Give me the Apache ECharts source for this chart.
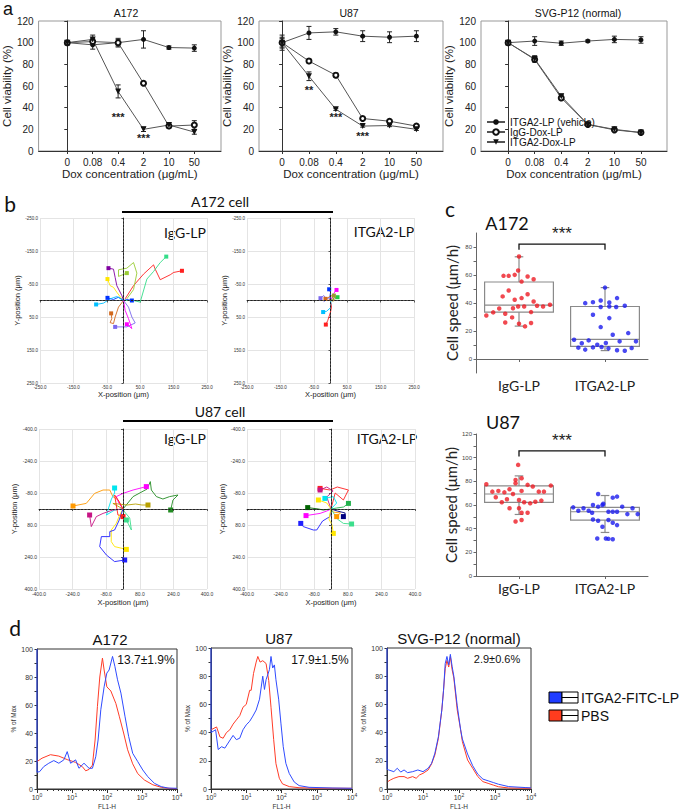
<!DOCTYPE html>
<html><head><meta charset="utf-8">
<script src="https://cdn.jsdelivr.net/npm/echarts@6/dist/echarts.min.js"></script>
<style>html,body{margin:0;padding:0;background:#fff}#c{width:685px;height:812px}</style>
</head><body><div id="c"></div>
<script>
// ================= DATA =================
// Panel a: cell viability (%)
const doseLabels = ['0','0.08','0.4','2','10','50'];
const a172Vehicle = [100,98,100,103,95.5,95];
const a172VehicleErr = [2,4,3,8,1.5,3];
const a172IgGDox = [100,101,100,62.5,23,24];
const a172IgGDoxErr = [2,3,4,1,2,4];
const a172ITGA2Dox = [100,103,55,20,24,17.5];
const a172ITGA2DoxErr = [2,4,6,2,2,2];
const u87Vehicle = [100,109,110,106,105,106];
const u87VehicleErr = [7,6,3,5,5,5];
const u87IgGDox = [100,83,70,30,27.5,23];
const u87IgGDoxErr = [5,2,2,1,1,1];
const u87ITGA2Dox = [100,69,38.5,23,23.5,20];
const u87ITGA2DoxErr = [4,4,1,1,1,1];
const svgVehicle = [100,101.5,99.5,101.5,103,102.5];
const svgVehicleErr = [2,4,2,1,3,3];
const svgIgGDox = [100,84.5,49,24.5,19.5,17];
const svgIgGDoxErr = [2,2,2,1,1,1];
const svgITGA2Dox = [100,85,50.5,24.5,20,17];
const svgITGA2DoxErr = [2,3,2,1,1,1];
const a172Stars = [[2,31,'***'],[3,12,'***']];
const u87Stars = [[1,56,'**'],[2,31,'***'],[3,14,'***']];

// Panel b: cell tracks (x, y in µm), first point = track end
const a172IgGTracks = [
  [[175,-90],[150,-85],[140,-78],[110,-63],[95,-95],[90,-108],[60,-80],[30,-45],[5,-5]],
  [[128,-133],[110,-115],[90,-88],[70,-65],[50,5],[30,0],[5,0]],
  [[10,-83],[-15,-73],[-15,-93],[10,-98],[30,-115],[40,-83],[30,-33],[10,-5]],
  [[-45,-98],[-30,-95],[-25,-70],[-20,-45],[-5,-15],[0,0]],
  [[-48,-65],[-40,-45],[-30,-40],[-20,-25],[-5,-5]],
  [[-48,-8],[-30,-3],[-15,-10],[0,0]],
  [[25,0],[10,-3],[0,0]],
  [[-82,12],[-60,8],[-40,-5],[-20,-12],[0,0]],
  [[-37,39],[-35,55],[-40,67],[-30,70],[-25,50],[-15,20],[0,0]],
  [[-25,80],[10,80],[35,68],[25,50],[15,20],[0,0]],
  [[10,72],[25,85],[15,55],[5,30],[0,0]]
];
const a172IgGColors = ['#ff2020','#33dd88','#99cc33','#8000a0','#ffe600','#0033ff','#0033ff','#00bfff','#d2691e','#7b68ee','#ff00ff'];
const a172ITGA2Tracks = [
  [[-4,-34],[0,-25],[-2,-10],[0,0]],
  [[18,-32],[10,-22],[5,-10],[0,0]],
  [[21,-10],[12,-8],[5,-3],[0,0]],
  [[-30,-7],[-20,-15],[-12,-5],[-20,3],[-5,-8],[0,0]],
  [[-22,35],[-12,33],[0,22],[2,10],[0,0]],
  [[-14,73],[-8,60],[0,35],[3,20],[0,5]],
  [[-15,-5],[5,-15],[10,0],[-5,-2],[0,0]],
  [[10,-15],[15,-5],[8,2],[0,0]]
];
const a172ITGA2Colors = ['#0033ff','#ff00ff','#22cc44','#7b68ee','#00bfff','#ff2020','#d2691e','#999933'];
const u87IgGTracks = [
  [[-238,-15],[-175,-28],[-135,-78],[-95,-95],[-63,-95],[-48,-62],[-24,-45],[0,0]],
  [[227,5],[238,-45],[262,-70],[222,-62],[190,-50],[159,-62],[135,-95],[130,-137],[115,-100],[48,-62],[0,0]],
  [[111,-112],[48,-95],[0,-78],[-32,-62],[-20,-30],[0,0]],
  [[-40,-105],[-40,-80],[-55,-50],[-79,30],[-40,5],[0,0]],
  [[119,-20],[90,-20],[60,-25],[20,-20],[-48,-28],[0,0]],
  [[-159,30],[-151,88],[-127,38],[-95,22],[-48,5],[0,0]],
  [[0,38],[-24,30],[-40,-70],[-20,-40],[0,0]],
  [[16,55],[40,105],[32,45],[8,15],[0,0]],
  [[16,202],[-40,188],[-56,163],[-56,105],[-32,72],[-16,30],[0,0]],
  [[8,255],[-40,263],[-79,230],[-111,188],[-103,138],[-63,138],[-63,113],[-40,105],[-20,60],[0,0]]
];
const u87IgGColors = ['#ff9900','#228b22','#ff00ff','#00e5ee','#b8a000','#c71585','#ff2020','#3cde8c','#ffe600','#1f1fff'];
const u87ITGA2Tracks = [
  [[-52,-103],[-5,-95],[30,-110],[83,-95],[59,-45],[20,-80],[0,0]],
  [[-52,-95],[-20,-110],[10,-90],[-20,-60],[0,0]],
  [[-60,-45],[-20,-30],[0,0]],
  [[-29,-53],[11,-62],[27,-30],[0,0]],
  [[83,-28],[60,-10],[27,-5],[0,0]],
  [[-111,-7],[-60,0],[-37,5],[0,0]],
  [[-119,33],[-52,22],[-20,10],[0,0]],
  [[-144,72],[-132,88],[-84,105],[-68,105],[-40,60],[-5,38],[0,0]],
  [[27,38],[45,20],[10,15],[0,0]],
  [[59,38],[68,20],[30,10],[0,0]],
  [[98,75],[59,72],[30,50],[0,0]],
  [[11,122],[5,80],[-10,50],[0,0]]
];
const u87ITGA2Colors = ['#ff2020','#c71585','#ffe600','#00e5ee','#22b14c','#006400','#ff00ff','#1f1fff','#ff9900','#000080','#3cde8c','#ffe600'];

// Panel c: cell speed (µm/h)
const speedCats = ['IgG-LP','ITGA2-LP'];
const a172IgGSpeed = [31.1,33.3,36.1,44.7,32.3,26.1,48.9,59.4,59.4,36.3,29.7,60.1,42.3,63.2,73.2,37.5,25.2,55.3,43.5,37.5,23.3,46.3,58.9,33.5,25.7,57,41.1,38,37.5,38.7];
const a172IgGJitter = [-0.38,-0.3,-0.23,-0.19,-0.16,-0.16,-0.12,-0.18,-0.12,-0.07,-0.08,-0.05,-0.05,-0.01,0,-0.01,0,0.03,0.03,0.06,0.07,0.1,0.1,0.14,0.14,0.17,0.17,0.21,0.28,0.36];
const a172ITGA2Speed = [13.8,8.1,11.2,6.7,13.3,39.9,40.6,31.6,8.3,10.2,41.8,37.1,22.8,8.6,11.4,7.6,37.5,29.2,40.4,17.3,37.1,43.5,6.2,12.6,38,5.9,18.5,7.8,12.6,51];
const a172ITGA2Jitter = [-0.36,-0.31,-0.27,-0.23,-0.19,-0.23,-0.14,-0.14,-0.14,-0.09,-0.05,-0.05,-0.05,-0.04,0.01,0.04,0.05,0.05,0.05,0.09,0.13,0.14,0.14,0.17,0.23,0.23,0.27,0.31,0.36,0];
const u87IgGSpeed = [77.5,71.3,66.5,71.9,62.3,70.7,64.8,57.2,73.3,69.3,78.4,81.2,46.1,93.9,64.2,57.2,82.6,71.9,53.5,47.3,62.3,77,53.5,61.4,75.6,62.8,71.3,63.7,71.3,76.4];
const u87IgGJitter = [-0.38,-0.31,-0.27,-0.24,-0.2,-0.17,-0.14,-0.11,-0.11,-0.07,-0.04,-0.04,-0.04,-0.01,0,0,0.03,0.03,0.03,0.03,0.06,0.1,0.1,0.13,0.16,0.19,0.23,0.26,0.29,0.37];
const u87ITGA2Speed = [58,55.2,57.2,55.2,53.5,60,47.8,46.7,69.3,58.6,60,41.6,61,31.7,54.3,47.3,31.4,45,54.3,31.1,66.2,54.3,43,67.1,58.6,52.3,57.2,52.3,31.7];
const u87ITGA2Jitter = [-0.37,-0.31,-0.25,-0.19,-0.15,-0.14,-0.14,-0.08,-0.08,-0.08,-0.03,-0.03,-0.02,0.01,0.04,0.04,0.04,0.09,0.09,0.09,0.09,0.14,0.14,0.14,0.2,0.26,0.32,0.38,-0.09];
// box stats: [whiskerLow, Q1, median, Q3, whiskerHigh]
const a172Boxes = [[23.5,33.5,38.5,55,73],[6,9,14,37.5,51]];
const u87Boxes = [[52,62.3,69.3,76.1,84.6],[36.8,47.3,54.3,58,68]];
const a172Bracket = [1,2,82,78]; const a172Sig = '***';
const u87Bracket = [1,2,105.8,101]; const u87Sig = '***';

// Panel d: flow cytometry histograms [FL1-H, % of Max]
const a172Blue = [[1,100],[1,12],[1.19,12.4],[1.56,16],[2.17,18.4],[3.02,20.3],[4.2,18.4],[5.85,20.8],[7.3,26.7],[9.1,18.4],[12.7,20.8],[15.8,14.8],[22,18.4],[30.7,14.8],[38.3,14.8],[47.7,23],[55.7,35],[66.5,56.6],[82.8,73],[98.9,82.8],[115,85],[144,94.7],[168,87.6],[200,78],[250,68.5],[326,52],[416,37.5],[542,25.5],[754,19.6],[1052,13.6],[1465,8.8],[2275,4],[3540,1.7],[5510,0.7],[10000,0.5]];
const a172Red = [[1,19.6],[1.39,22],[2.42,24.5],[4.2,23.5],[7.3,21],[12.7,19],[19.7,16],[24.6,13],[30.7,14],[38.3,17],[45.7,35],[53.3,59],[62.2,80],[74.1,93.5],[82.8,85],[98.9,73],[128.8,70],[179.5,61],[223.9,52],[298.5,40],[389,28],[541.6,18],[754.4,11],[1175,6.4],[2041,3],[3548,1.2],[6166,0.4],[10000,0.2]];
const u87Blue = [[1,100],[1,40],[1.35,42],[1.6,28],[1.99,30],[2.47,29],[3.06,32.6],[4.23,38],[5.24,35],[6.53,36],[8.08,42],[10,45.5],[12.5,48],[15.4,51.7],[19.1,56],[23.8,63.7],[29.4,80],[32.9,70.6],[36.5,77.5],[45.4,84.6],[50.4,94],[56.2,85.8],[62.8,88],[69.6,77.5],[83,63.7],[96.2,46.7],[112,30],[133,18.2],[166,11],[229,5],[316,2.4],[604,1.2],[2723,0.7],[10000,0.5]];
const u87Red = [[1,42],[1.44,44],[1.79,37],[2.21,36],[2.74,40],[3.42,42],[4.23,46],[5.24,49],[6.53,52],[8.08,58],[10,60],[12.5,70],[13.8,70],[16.1,82],[19.1,90],[21.3,94],[24.7,90],[29.4,91],[36.5,89],[43.4,77],[50.4,58],[60,35],[69.6,18],[86.7,7.6],[107,3.6],[166,1.7],[316,0.9],[908,0.6],[10000,0.5]];
const svgBlue = [[1,100],[1,14],[1.11,13.5],[1.55,12.3],[1.93,14.7],[2.4,12],[2.98,13.5],[3.73,11.6],[5.17,12.3],[7.2,13.5],[10,12.3],[13.9,14.7],[17.3,18.2],[21.4,25.4],[26.8,37.2],[33.3,56],[37.2,70],[41.4,89],[46.3,94],[51.8,88],[57.5,95.5],[64.4,87],[71.9,80],[89.4,59],[111,42],[124,35.5],[173,24.8],[240,16.5],[333,10.5],[463,7],[644,5.8],[894,4.6],[1242,3.4],[2400,1.7],[7200,1],[10000,0.8]];
const svgRed = [[1.05,5.2],[1.24,6.4],[1.55,7.6],[2.15,8.8],[2.98,8.8],[3.73,7.6],[5.17,8.8],[6.45,7.6],[8.03,10],[10,11.1],[13.9,13.5],[17.3,17.8],[21.4,24.2],[26.8,36],[33.3,56],[37.2,70],[41.4,85.3],[46.3,91.2],[51.8,86.5],[57.5,94],[64.4,84.6],[71.9,78.7],[89.4,56],[111,42],[124,33.6],[173,20.6],[240,14.7],[333,8.8],[463,5.2],[644,4],[894,2.8],[1242,1.6],[2400,0.7],[10000,0.5]];
const histNotes = ['13.7±1.9%','17.9±1.5%','2.9±0.6%'];
const histTitles = ['A172','U87','SVG-P12 (normal)'];
const histLegend = ['ITGA2-FITC-LP','PBS'];

// ================= CHART =================
const FA = 'Liberation Sans, Arial, sans-serif';
const FC = 'Lato, Open Sans, sans-serif';
const chart = echarts.init(document.getElementById('c'), null, {renderer:'svg'});

const grids = [
  {left:30, top:21, width:191, height:130, show:true, borderColor:'#999', borderWidth:1},
  {left:259, top:21, width:184, height:130, show:true, borderColor:'#999', borderWidth:1},
  {left:481, top:21, width:186, height:130, show:true, borderColor:'#999', borderWidth:1},
  {left:40, top:218, width:167, height:165},
  {left:247, top:218, width:167, height:165},
  {left:39, top:429, width:168, height:160},
  {left:247, top:429, width:168, height:160},
  {left:476, top:233, width:172, height:140},
  {left:476, top:434, width:172, height:142},
  {left:37, top:649, width:140, height:140, show:true, borderColor:'#333', borderWidth:1},
  {left:211, top:648, width:141, height:141, show:true, borderColor:'#333', borderWidth:1},
  {left:387, top:648, width:144, height:141, show:true, borderColor:'#333', borderWidth:1}
];
grids.forEach(g=>{g.containLabel=false;});

const xAxes = [], yAxes = [], series = [];

// ---- panel a ----
const aRanges = [[-1.13,6.05],[-0.86,5.99],[-1.02,5.98]];
const aData = [
  [a172Vehicle,a172VehicleErr,a172IgGDox,a172IgGDoxErr,a172ITGA2Dox,a172ITGA2DoxErr],
  [u87Vehicle,u87VehicleErr,u87IgGDox,u87IgGDoxErr,u87ITGA2Dox,u87ITGA2DoxErr],
  [svgVehicle,svgVehicleErr,svgIgGDox,svgIgGDoxErr,svgITGA2Dox,svgITGA2DoxErr]
];
const aStars = [a172Stars,u87Stars,[]];
function errRender(params, api){
  const x = api.value(0), lo = api.value(1), hi = api.value(2);
  const p1 = api.coord([x,hi]), p2 = api.coord([x,lo]); const w = 2.5;
  const st = {stroke:'#222', lineWidth:1};
  return {type:'group', children:[
    {type:'line', shape:{x1:p1[0],y1:p1[1],x2:p2[0],y2:p2[1]}, style:st},
    {type:'line', shape:{x1:p1[0]-w,y1:p1[1],x2:p1[0]+w,y2:p1[1]}, style:st},
    {type:'line', shape:{x1:p2[0]-w,y1:p2[1],x2:p2[0]+w,y2:p2[1]}, style:st}
  ]};
}
function starRender(params, api){
  const p = api.coord([api.value(0), api.value(1)]);
  const item = params.context.items[params.dataIndex];
  return {type:'text', x:p[0], y:p[1], style:{text:item, fontSize:11, fontWeight:'bold', fill:'#222', fontFamily:FA, textAlign:'center', textVerticalAlign:'middle'}};
}
const idx6 = [0,1,2,3,4,5];
for (let i=0;i<3;i++){
  xAxes.push({gridIndex:i, type:'value', min:aRanges[i][0], max:aRanges[i][1],
    axisLine:{lineStyle:{color:'#333'}}, splitLine:{show:false},
    axisTick:{customValues:idx6, length:3, lineStyle:{color:'#333'}},
    axisLabel:{customValues:idx6, formatter:v=>doseLabels[Math.round(v)], fontSize:10, color:'#222', fontFamily:FA, margin:6},
    name:'Dox concentration (μg/mL)', nameLocation:'middle', nameGap:17,
    nameTextStyle:{fontSize:11.5, color:'#222', fontFamily:FA}});
  yAxes.push({gridIndex:i, type:'value', min:0, max:120, interval:20,
    axisLine:{show:true, lineStyle:{color:'#333'}}, splitLine:{show:false},
    axisTick:{show:true, length:3, lineStyle:{color:'#333'}},
    axisLabel:{fontSize:10, color:'#222', fontFamily:FA, margin:5},
    name:'Cell viability (%)', nameLocation:'middle', nameGap:19, nameRotate:90,
    nameTextStyle:{fontSize:11.5, color:'#222', fontFamily:FA}});
  const d = aData[i];
  const names = ['ITGA2-LP (vehicle)','IgG-Dox-LP','ITGA2-Dox-LP'];
  const syms = ['circle','emptyCircle','triangle'];
  for (let s=0;s<3;s++){
    const vals = d[s*2], errs = d[s*2+1];
    series.push({type:'custom', xAxisIndex:i, yAxisIndex:i, renderItem:errRender, silent:true,
      encode:{x:0,y:[1,2]}, data: vals.map((v,k)=>[k, v-errs[k], v+errs[k]]), z:2});
    series.push({type:'line', name:names[s], xAxisIndex:i, yAxisIndex:i,
      data: vals.map((v,k)=>[k,v]), symbol:syms[s], symbolSize: s===2?6:5, symbolRotate: s===2?180:0,
      showSymbol:true, itemStyle:{color:'#111', borderColor:'#111', borderWidth: s===1?1:0},
      lineStyle:{color:'#555', width:1}, z:3, animation:false});
  }
  if (aStars[i].length){
    const labels = aStars[i].map(s=>s[2]);
    series.push({type:'custom', xAxisIndex:i, yAxisIndex:i, silent:true, z:5,
      renderItem:(params, api)=>{
        const p = api.coord([api.value(0), api.value(1)]);
        return {type:'text', x:p[0], y:p[1], style:{text:labels[params.dataIndex], fontSize:11, fontWeight:'bold',
          fill:'#222', fontFamily:FA, textAlign:'center', textVerticalAlign:'middle'}};
      },
      encode:{x:0,y:1}, data: aStars[i].map(s=>[s[0],s[1]])});
  }
}

// ---- panel b ----
const bSpecs = [
  {g:3, lim:250, step:100, tracks:a172IgGTracks, colors:a172IgGColors, fs:4.5, ng:7, yng:16, sym:4},
  {g:4, lim:250, step:100, tracks:a172ITGA2Tracks, colors:a172ITGA2Colors, fs:4.5, ng:7, yng:16, sym:4},
  {g:5, lim:400, step:160, tracks:u87IgGTracks, colors:u87IgGColors, fs:5, ng:9, yng:20, sym:5},
  {g:6, lim:400, step:160, tracks:u87ITGA2Tracks, colors:u87ITGA2Colors, fs:5, ng:9, yng:20, sym:5}
];
bSpecs.forEach(sp=>{
  const common = {gridIndex:sp.g, type:'value', min:-sp.lim, max:sp.lim, interval:sp.step,
    axisLine:{show:true, lineStyle:{color:'#555'}}, axisTick:{show:true, length:2, lineStyle:{color:'#555'}},
    axisLabel:{fontSize:sp.fs, color:'#333', formatter:v=>v.toFixed(1), margin:2, fontFamily:FA},
    splitLine:{show:true, lineStyle:{color:'#e4e4e4', width:1}},
    nameLocation:'middle', nameTextStyle:{fontSize:7.5, color:'#222', fontFamily:FA}};
  xAxes.push(Object.assign({}, common, {name:'X-position (μm)', nameGap:sp.ng}));
  yAxes.push(Object.assign({}, common, {inverse:true, name:'Y-position (μm)', nameGap:sp.yng, nameRotate:90}));
  sp.tracks.forEach((tr,k)=>{
    const s = {type:'line', xAxisIndex:sp.g, yAxisIndex:sp.g, data:tr, animation:false,
      symbol:(v,p)=>p.dataIndex===0?'rect':'none', symbolSize:sp.sym, showSymbol:true,
      itemStyle:{color:sp.colors[k]}, lineStyle:{color:sp.colors[k], width:0.9}, z:3};
    if (k===0){
      s.markLine = {silent:true, symbol:'none', label:{show:false}, animation:false,
        lineStyle:{type:[2,1.5], color:'#222', width:1},
        data:[{xAxis:0},{yAxis:0}]};
    }
    series.push(s);
  });
});

// ---- panel c ----
function boxRender(params, api){
  const x = api.value(0);
  const wl = api.value(1), q1 = api.value(2), md = api.value(3), q3 = api.value(4), wh = api.value(5);
  const hw = api.size([0.4,0])[0], cw = api.size([0.05,0])[0];
  const c = api.coord([x, md]);
  const yq1 = api.coord([x,q1])[1], yq3 = api.coord([x,q3])[1], ywl = api.coord([x,wl])[1], ywh = api.coord([x,wh])[1];
  const st = {stroke:'#8a8a8a', lineWidth:1.2, fill:null};
  return {type:'group', children:[
    {type:'line', shape:{x1:c[0],y1:ywh,x2:c[0],y2:yq3}, style:st},
    {type:'line', shape:{x1:c[0],y1:yq1,x2:c[0],y2:ywl}, style:st},
    {type:'line', shape:{x1:c[0]-cw,y1:ywh,x2:c[0]+cw,y2:ywh}, style:st},
    {type:'line', shape:{x1:c[0]-cw,y1:ywl,x2:c[0]+cw,y2:ywl}, style:st},
    {type:'rect', shape:{x:c[0]-hw, y:yq3, width:2*hw, height:yq1-yq3}, style:{stroke:'#8a8a8a', lineWidth:1.2, fill:'rgba(255,255,255,0.01)'}},
    {type:'line', shape:{x1:c[0]-hw,y1:c[1],x2:c[0]+hw,y2:c[1]}, style:st}
  ]};
}
function bracketRender(params, api){
  const p1 = api.coord([api.value(0), api.value(2)]), p2 = api.coord([api.value(1), api.value(2)]);
  const yl = api.coord([api.value(0), api.value(3)])[1];
  return {type:'polyline', shape:{points:[[p1[0],yl],[p1[0],p1[1]],[p2[0],p2[1]],[p2[0],yl]]},
    style:{stroke:'#111', lineWidth:1.3, fill:null}};
}
const cSpecs = [
  {g:7, min:-10, max:90, ticks:[0,10,20,30,40,50,60,70,80], labels:[0,20,40,60,80], boxes:a172Boxes,
   pts:[[a172IgGSpeed,a172IgGJitter],[a172ITGA2Speed,a172ITGA2Jitter]], br:a172Bracket, sig:a172Sig},
  {g:8, min:0, max:120, ticks:[0,10,20,30,40,50,60,70,80,90,100,110,120], labels:[0,20,40,60,80,100,120], boxes:u87Boxes,
   pts:[[u87IgGSpeed,u87IgGJitter],[u87ITGA2Speed,u87ITGA2Jitter]], br:u87Bracket, sig:u87Sig}
];
const ptColors = ['#ee1c24','#1c1cee'];
cSpecs.forEach(sp=>{
  xAxes.push({gridIndex:sp.g, type:'value', min:0.5, max:2.5,
    axisLine:{lineStyle:{color:'#666'}}, splitLine:{show:false},
    axisTick:{customValues:[1,2], length:3, lineStyle:{color:'#666'}},
    axisLabel:{customValues:[1,2], formatter:v=>speedCats[Math.round(v)-1], fontSize:14, color:'#222', fontFamily:FC, margin:5}});
  yAxes.push({gridIndex:sp.g, type:'value', min:sp.min, max:sp.max,
    axisLine:{show:true, lineStyle:{color:'#666'}}, splitLine:{show:false},
    axisTick:{show:true, customValues:sp.ticks, length:2.5, lineStyle:{color:'#666'}},
    axisLabel:{customValues:sp.labels, fontSize:6, color:'#444', fontFamily:FA, margin:4},
    name:'Cell speed (μm/h)', nameLocation:'middle', nameGap:17, nameRotate:90,
    nameTextStyle:{fontSize:15, color:'#222', fontFamily:FC}});
  series.push({type:'custom', xAxisIndex:sp.g, yAxisIndex:sp.g, renderItem:boxRender, silent:true,
    encode:{x:0,y:[1,2,3,4,5]}, data: sp.boxes.map((b,k)=>[k+1].concat(b)), z:2});
  sp.pts.forEach((p,k)=>{
    series.push({type:'scatter', xAxisIndex:sp.g, yAxisIndex:sp.g, symbol:'circle', symbolSize:4.5,
      itemStyle:{color:ptColors[k]}, z:4, data: p[0].map((v,j)=>[k+1+p[1][j], v])});
  });
  series.push({type:'custom', xAxisIndex:sp.g, yAxisIndex:sp.g, renderItem:bracketRender, silent:true,
    encode:{x:[0,1],y:[2,3]}, data:[sp.br], z:3});
  series.push({type:'custom', xAxisIndex:sp.g, yAxisIndex:sp.g, silent:true, z:5,
    renderItem:(params, api)=>{
      const p = api.coord([api.value(0), api.value(1)]);
      return {type:'text', x:p[0], y:p[1]-2, style:{text:sp.sig, fontSize:17, fill:'#222', fontFamily:FA,
        textAlign:'center', textVerticalAlign:'bottom'}};
    },
    encode:{x:0,y:1}, data:[[(sp.br[0]+sp.br[1])/2, sp.br[2]]]});
});

// ---- panel d ----
const dSpecs = [
  {g:9, blue:a172Blue, red:a172Red, ng:18},
  {g:10, blue:u87Blue, red:u87Red, ng:18},
  {g:11, blue:svgBlue, red:svgRed, ng:18}
];
const minorLog = [2,3,4,5,6,7,8,9,20,30,40,50,60,70,80,90,200,300,400,500,600,700,800,900,2000,3000,4000,5000,6000,7000,8000,9000];
dSpecs.forEach(sp=>{
  xAxes.push({gridIndex:sp.g, type:'log', logBase:10, min:1, max:10000,
    axisLine:{lineStyle:{color:'#333'}}, splitLine:{show:false},
    axisTick:{show:true, length:4, lineStyle:{color:'#333'}},
    axisLabel:{fontSize:7, color:'#333', margin:3, fontFamily:FA,
      formatter:v=>'10{s|'+Math.round(Math.log10(v))+'}', rich:{s:{fontSize:5, verticalAlign:'top', padding:[0,0,5,0], color:'#333'}}},
    name:'FL1-H', nameLocation:'middle', nameGap:14, nameTextStyle:{fontSize:6.5, color:'#333', fontFamily:FA}});
  yAxes.push({gridIndex:sp.g, type:'value', min:0, max:100,
    axisLine:{show:true, lineStyle:{color:'#333'}}, splitLine:{show:false},
    axisTick:{show:true, customValues:[0,10,20,30,40,50,60,70,80,90,100], length:2.5, lineStyle:{color:'#333'}},
    axisLabel:{customValues:[0,20,40,60,80,100], fontSize:7, color:'#333', margin:4, fontFamily:FA},
    name:'% of Max', nameLocation:'middle', nameGap:sp.ng, nameRotate:90,
    nameTextStyle:{fontSize:6.5, color:'#333', fontFamily:FA}});
  series.push({type:'line', xAxisIndex:sp.g, yAxisIndex:sp.g, data:sp.red, showSymbol:false, animation:false,
    lineStyle:{color:'#ff3c28', width:1}, z:3});
  series.push({type:'line', xAxisIndex:sp.g, yAxisIndex:sp.g, data:sp.blue, showSymbol:false, animation:false,
    lineStyle:{color:'#2f4bff', width:1}, z:4});
});
// minor log ticks (extra x axes, no labels)
dSpecs.forEach(sp=>{
  xAxes.push({gridIndex:sp.g, type:'log', logBase:10, min:1, max:10000, position:'bottom',
    axisLine:{show:false}, splitLine:{show:false}, axisLabel:{show:false},
    axisTick:{show:true, customValues:minorLog, length:2, lineStyle:{color:'#333'}}});
});

// ---- texts ----
function txt(x,y,t,fs,font){
  return {type:'text', x:x, y:y, silent:true,
    style:{text:t, fontSize:fs, fontFamily:font||FA, fill:'#111', textAlign:'center', textVerticalAlign:'middle'}};
}
const graphics = [
  txt(8,9,'a',18), txt(126,13,'A172',10.5), txt(349,13,'U87',10.5), txt(578,13,'SVG-P12 (normal)',10.5),
  txt(10,203,'b',21,FC),
  txt(220,201,'A172 cell',14,FC),
  {type:'line', shape:{x1:122,y1:212,x2:333,y2:212}, style:{stroke:'#000', lineWidth:2}, silent:true},
  txt(220,411,'U87 cell',14,FC),
  {type:'line', shape:{x1:123,y1:421,x2:333,y2:421}, style:{stroke:'#000', lineWidth:2}, silent:true},
  txt(185,232,'IgG-LP',14,FC), txt(384,231,'ITGA2-LP',14,FC),
  txt(185,438,'IgG-LP',14,FC), txt(387,438,'ITGA2-LP',14,FC),
  txt(450,208,'c',21,FC), txt(507,223,'A172',18,FC), txt(503,422,'U87',18,FC),
  txt(15,627,'d',21,FC),
  txt(110,639,histTitles[0],15), txt(279,638,histTitles[1],15), txt(459,638,histTitles[2],15),
  txt(146,660,histNotes[0],12), txt(320,660,histNotes[1],12), txt(497,659,histNotes[2],11),
  {type:'rect', shape:{x:549,y:692,width:13,height:11}, style:{fill:'#1f3cff', stroke:'#000', lineWidth:1}, silent:true},
  {type:'rect', shape:{x:562,y:692,width:16,height:11}, style:{fill:'#fff', stroke:'#000', lineWidth:1}, silent:true},
  {type:'line', shape:{x1:562,y1:697.5,x2:578,y2:697.5}, style:{stroke:'#000', lineWidth:1}, silent:true},
  {type:'rect', shape:{x:549,y:710,width:13,height:11}, style:{fill:'#ff3c1e', stroke:'#000', lineWidth:1}, silent:true},
  {type:'rect', shape:{x:562,y:710,width:16,height:11}, style:{fill:'#fff', stroke:'#000', lineWidth:1}, silent:true},
  {type:'line', shape:{x1:562,y1:715.5,x2:578,y2:715.5}, style:{stroke:'#000', lineWidth:1}, silent:true},
  {type:'text', x:581, y:698, silent:true, style:{text:histLegend[0], fontSize:14, fontFamily:FA, fill:'#111', textVerticalAlign:'middle'}},
  {type:'text', x:581, y:716, silent:true, style:{text:histLegend[1], fontSize:14, fontFamily:FA, fill:'#111', textVerticalAlign:'middle'}}
];

chart.setOption({
  animation:false,
  backgroundColor:'#fff',
  textStyle:{fontFamily:FA},
  grid:grids, xAxis:xAxes, yAxis:yAxes, series:series,
  legend:{data:['ITGA2-LP (vehicle)','IgG-Dox-LP','ITGA2-Dox-LP'], orient:'vertical', left:486, top:117,
    itemWidth:18, itemHeight:7, itemGap:0, selectedMode:false, padding:0,
    textStyle:{fontSize:10, lineHeight:9.5, height:9.5, color:'#111', fontFamily:FA}},
  graphic:graphics
});
</script></body></html>
